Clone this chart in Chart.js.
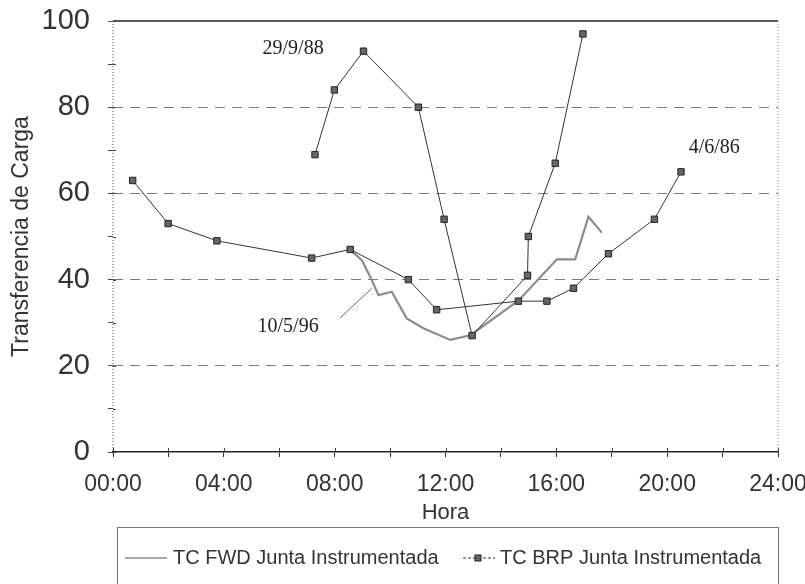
<!DOCTYPE html>
<html>
<head>
<meta charset="utf-8">
<script src="https://cdn.jsdelivr.net/npm/chart.js@4.4.0/dist/chart.umd.min.js"></script>
<style>
    html, body { margin: 0; padding: 0; background: #fff; }
</style>
</head>
<body>
<canvas id="chart" width="805" height="584"></canvas>
<script>
// Transferencia de carga vs hora del dia
const hourLabels = ['00:00', '04:00', '08:00', '12:00', '16:00', '20:00', '24:00'];

// TC BRP, 4/6/86
const brpJun86Hours  = [0.71, 1.99, 3.75, 7.17, 8.56, 10.66, 11.68, 14.63, 15.66, 16.62, 17.88, 19.54, 20.5];
const brpJun86Values = [63, 53, 49, 45, 47, 40, 33, 35, 35, 38, 46, 54, 65];

// TC BRP, 29/9/88
const brpSep88Hours  = [7.29, 7.99, 9.04, 11.02, 11.95, 12.96, 14.96, 14.99, 15.96, 16.96];
const brpSep88Values = [69, 84, 93, 80, 54, 27, 41, 50, 67, 97];

// TC FWD, 10/5/96
const fwdHours  = [8.56, 8.98, 9.34, 9.58, 10.06, 10.6, 11.2, 12.17, 12.9, 14.63, 16.02, 16.68, 17.16, 17.64];
const fwdValues = [46.9, 44.5, 39.9, 36.4, 37.2, 31, 28.7, 26, 27.1, 35.1, 44.7, 44.7, 54.6, 50.9];

// date notes written on the plot (hour, value)
const dateNotes = [
    { text: '29/9/88', hour: 6.5, value: 93.5 },
    { text: '4/6/86', hour: 21.7, value: 70.5 },
    { text: '10/5/96', hour: 6.32, value: 29 }
];
const leaderFrom = { hour: 8.19, value: 31.1 };
const leaderTo = { hour: 9.35, value: 38 };

const toPoints = (xs, ys) => xs.map((x, i) => ({ x: x, y: ys[i] }));

const FONT = '"Liberation Sans", Arial, sans-serif';
const TEXT = '#333';

const brpStyle = {
    borderColor: '#333',
    borderWidth: 1,
    pointStyle: 'rect',
    pointRadius: 4.5,
    pointBackgroundColor: '#666',
    pointBorderColor: '#222',
    pointBorderWidth: 1,
    tension: 0,
    fill: false
};

// top solid frame line, dotted left/right edges, ticks poking inside
const framePlugin = {
    id: 'frame',
    beforeDatasetsDraw(chart) {
        const { ctx, chartArea: a, scales: { x, y } } = chart;
        ctx.save();
        ctx.strokeStyle = '#222';
        ctx.lineWidth = 1.5;
        ctx.beginPath();
        ctx.moveTo(a.left, a.top);
        ctx.lineTo(a.right, a.top);
        ctx.stroke();

        ctx.strokeStyle = '#888';
        ctx.lineWidth = 1;
        ctx.setLineDash([1, 2]);
        ctx.beginPath();
        ctx.moveTo(a.right, a.top);
        ctx.lineTo(a.right, a.bottom);
        ctx.stroke();
        ctx.strokeStyle = '#555';
        ctx.beginPath();
        ctx.moveTo(a.left, a.top);
        ctx.lineTo(a.left, a.bottom);
        ctx.stroke();
        ctx.setLineDash([]);

        ctx.strokeStyle = '#444';
        ctx.beginPath();
        x.ticks.forEach(t => {
            const px = Math.round(x.getPixelForValue(t.value)) + 0.5;
            ctx.moveTo(px, a.bottom);
            ctx.lineTo(px, a.bottom - 4);
        });
        y.ticks.forEach(t => {
            const py = Math.round(y.getPixelForValue(t.value)) + 0.5;
            ctx.moveTo(a.left, py);
            ctx.lineTo(a.left + 3, py);
        });
        ctx.stroke();
        ctx.restore();
    }
};

// the hand-written dates and the leader line
const notesPlugin = {
    id: 'notes',
    afterDatasetsDraw(chart) {
        const { ctx, scales: { x, y } } = chart;
        ctx.save();
        ctx.strokeStyle = '#666';
        ctx.lineWidth = 1;
        ctx.beginPath();
        ctx.moveTo(x.getPixelForValue(leaderFrom.hour), y.getPixelForValue(leaderFrom.value));
        ctx.lineTo(x.getPixelForValue(leaderTo.hour), y.getPixelForValue(leaderTo.value));
        ctx.stroke();
        ctx.font = '20px "Liberation Serif", "Times New Roman", serif';
        ctx.fillStyle = '#222';
        ctx.textAlign = 'center';
        ctx.textBaseline = 'middle';
        dateNotes.forEach(n => {
            ctx.fillText(n.text, x.getPixelForValue(n.hour), y.getPixelForValue(n.value));
        });
        ctx.restore();
    }
};

// boxed legend under the axis title
const boxLegendPlugin = {
    id: 'boxLegend',
    afterDraw(chart) {
        const { ctx, chartArea: a } = chart;
        const top = a.bottom + 75;
        const midY = top + 31;
        ctx.save();
        ctx.strokeStyle = '#777';
        ctx.lineWidth = 1;
        ctx.strokeRect(a.left + 4.5, top + 0.5, a.right - a.left - 4, 80);

        // FWD sample
        ctx.strokeStyle = '#8c8c8c';
        ctx.lineWidth = 1.5;
        ctx.beginPath();
        ctx.moveTo(a.left + 12, midY);
        ctx.lineTo(a.left + 54, midY);
        ctx.stroke();

        // BRP sample
        ctx.strokeStyle = '#333';
        ctx.lineWidth = 1;
        ctx.setLineDash([3, 2]);
        ctx.beginPath();
        ctx.moveTo(a.left + 350, midY);
        ctx.lineTo(a.left + 382, midY);
        ctx.stroke();
        ctx.setLineDash([]);
        ctx.fillStyle = '#666';
        ctx.fillRect(a.left + 362, midY - 3, 6, 6);
        ctx.strokeStyle = '#222';
        ctx.strokeRect(a.left + 362, midY - 3, 6, 6);

        ctx.font = '20px ' + FONT;
        ctx.fillStyle = TEXT;
        ctx.textAlign = 'left';
        ctx.textBaseline = 'middle';
        ctx.fillText('TC FWD Junta Instrumentada', a.left + 60, midY);
        ctx.fillText('TC BRP Junta Instrumentada', a.left + 387, midY);
        ctx.restore();
    }
};

const ctx = document.getElementById('chart').getContext('2d');
new Chart(ctx, {
    type: 'line',
    data: {
        datasets: [
            Object.assign({ label: 'TC BRP Junta Instrumentada 4/6/86', data: toPoints(brpJun86Hours, brpJun86Values) }, brpStyle),
            Object.assign({ label: 'TC BRP Junta Instrumentada 29/9/88', data: toPoints(brpSep88Hours, brpSep88Values) }, brpStyle),
            {
                label: 'TC FWD Junta Instrumentada',
                data: toPoints(fwdHours, fwdValues),
                borderColor: '#8c8c8c',
                borderWidth: 2.2,
                pointRadius: 0,
                tension: 0,
                fill: false
            }
        ]
    },
    options: {
        responsive: false,
        animation: false,
        devicePixelRatio: 1,
        layout: { padding: { left: 0, right: 27, top: 21, bottom: 52 } },
        plugins: {
            legend: { display: false },
            tooltip: { enabled: false }
        },
        scales: {
            x: {
                type: 'linear',
                min: 0,
                max: 24,
                afterFit: s => { s.height = 80; s.paddingLeft = 0; s.paddingRight = 0; },
                ticks: {
                    stepSize: 2,
                    autoSkip: false,
                    maxRotation: 0,
                    padding: 14,
                    color: TEXT,
                    font: { family: FONT, size: 23 },
                    callback: v => (v % 4 === 0 ? hourLabels[v / 4] : '')
                },
                grid: {
                    drawOnChartArea: false,
                    drawTicks: true,
                    tickLength: 5,
                    tickColor: '#333'
                },
                border: { display: true, color: '#222', width: 1.5 },
                title: {
                    display: true,
                    text: 'Hora',
                    color: TEXT,
                    font: { family: FONT, size: 22 },
                    padding: { top: 0, bottom: 6 }
                }
            },
            y: {
                min: 0,
                max: 100,
                afterFit: s => { s.width = 113; s.paddingTop = 0; s.paddingBottom = 0; },
                ticks: {
                    stepSize: 10,
                    padding: 18,
                    color: TEXT,
                    font: { family: FONT, size: 29 },
                    callback: v => (v % 20 === 0 ? v : '')
                },
                grid: {
                    color: c => {
                        const v = c.tick ? c.tick.value : 0;
                        return (v % 20 === 0 && v > 0 && v < 100) ? '#7a7a7a' : 'rgba(0,0,0,0)';
                    },
                    lineWidth: 1,
                    tickLength: 5,
                    tickColor: '#444'
                },
                border: { display: false, dash: [10, 7] },
                title: {
                    display: true,
                    text: 'Transferencia de Carga',
                    color: TEXT,
                    font: { family: FONT, size: 23 },
                    padding: { top: 8, bottom: 0 }
                }
            }
        }
    },
    plugins: [framePlugin, notesPlugin, boxLegendPlugin]
});
</script>
</body>
</html>
